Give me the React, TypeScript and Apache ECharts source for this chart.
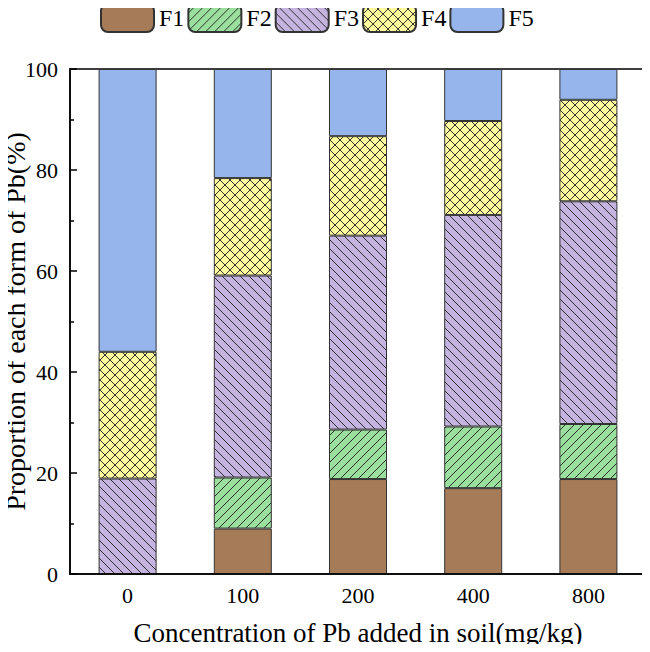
import React, { useEffect, useRef } from "react";
import * as echarts from "echarts";

const categories = ["0", "100", "200", "400", "800"];
const seriesNames = ["F1", "F2", "F3", "F4", "F5"];
const f1 = [0, 9.0, 18.8, 17.0, 18.8];
const f2 = [0, 10.1, 9.8, 12.2, 10.9];
const f3 = [18.9, 40.0, 38.4, 41.9, 44.1];
const f4 = [25.1, 19.3, 19.7, 18.6, 20.1];
const f5 = [56.0, 21.6, 13.3, 10.3, 6.1];
const seriesValues = [f1, f2, f3, f4, f5];

const FONT = "'Liberation Serif', 'Times New Roman', serif";

function makePattern(bg: string, kind: string, size: number) {
  if (kind === "none") return bg;
  const c = document.createElement("canvas");
  c.width = size;
  c.height = size;
  const ctx = c.getContext("2d")!;
  ctx.fillStyle = bg;
  ctx.fillRect(0, 0, size, size);
  ctx.strokeStyle = "rgba(30,30,30,0.9)";
  ctx.lineWidth = 1;
  const drawSlash = () => {
    for (const o of [-size, 0, size]) {
      ctx.beginPath();
      ctx.moveTo(o - 1, size + 1);
      ctx.lineTo(o + size + 1, -1);
      ctx.stroke();
    }
  };
  const drawBack = () => {
    for (const o of [-size, 0, size]) {
      ctx.beginPath();
      ctx.moveTo(o - 1, -1);
      ctx.lineTo(o + size + 1, size + 1);
      ctx.stroke();
    }
  };
  if (kind === "slash") drawSlash();
  if (kind === "back") drawBack();
  if (kind === "cross") {
    drawSlash();
    drawBack();
  }
  return {
    image: c,
    repeat: "repeat",
    imageWidth: size,
    imageHeight: size,
  } as any;
}

export default function App() {
  const ref = useRef<HTMLDivElement>(null);
  useEffect(() => {
    if (!ref.current) return;
    const chart = echarts.init(ref.current, null, { renderer: "svg" });
    const fills = [
      makePattern("#a57b58", "none", 9),
      makePattern("#9bdf9f", "slash", 9),
      makePattern("#c4b4df", "back", 9),
      makePattern("#fdfb9e", "cross", 10),
      makePattern("#95b5ec", "none", 9),
    ];
    chart.setOption({
      animation: false,
      backgroundColor: "#fff",
      textStyle: { fontFamily: FONT, color: "#000" },
      legend: {
        top: 3,
        left: 100,
        padding: 0,
        itemWidth: 53,
        itemHeight: 28,
        itemGap: 3,
        data: seriesNames,
        textStyle: { fontFamily: FONT, fontSize: 24, color: "#000" },
      },
      grid: {
        left: 70,
        right: 4,
        top: 69,
        bottom: 78,
        outerBoundsMode: "none",
        containLabel: false,
        show: true,
        borderColor: "#000",
        borderWidth: 1.5,
        backgroundColor: "transparent",
      },
      xAxis: [
        {
          type: "category",
          data: categories,
          z: 5,
          name: "Concentration of Pb added in soil(mg/kg)",
          nameLocation: "middle",
          nameGap: 45,
          nameMoveOverlap: false,
          nameTextStyle: { fontFamily: FONT, fontSize: 27, color: "#000" },
          axisLine: { lineStyle: { color: "#000", width: 1.5 } },
          axisTick: { inside: true, alignWithLabel: true, length: 9, lineStyle: { color: "#000", width: 1.5 } },
          axisLabel: { fontFamily: FONT, fontSize: 22, color: "#000", margin: 10 },
        },
        {
          type: "category",
          data: categories,
          position: "bottom",
          z: 5,
          axisLine: { show: false },
          axisTick: { inside: true, alignWithLabel: false, length: 4, lineStyle: { color: "#000", width: 1.5 } },
          axisLabel: { show: false },
        },
      ],
      yAxis: {
        type: "value",
        min: 0,
        max: 100,
        interval: 20,
        z: 5,
        name: "Proportion of each form of Pb(%)",
        nameLocation: "middle",
        nameGap: 41,
        nameMoveOverlap: false,
        nameTextStyle: { fontFamily: FONT, fontSize: 28, color: "#000" },
        axisLine: { show: true, lineStyle: { color: "#000", width: 1.5 } },
        axisTick: { show: true, inside: true, length: 7, lineStyle: { color: "#000", width: 1.5 } },
        minorTick: { show: true, splitNumber: 2, length: 4, lineStyle: { color: "#000", width: 1.5 } },
        splitLine: { show: false },
        axisLabel: { fontFamily: FONT, fontSize: 22, color: "#000", margin: 12 },
      },
      series: seriesNames.map((name, i) => ({
        name,
        type: "bar",
        stack: "total",
        barWidth: 58,
        data: seriesValues[i],
        itemStyle: { color: fills[i], borderColor: "#333", borderWidth: 1 },
      })),
    });
    return () => chart.dispose();
  }, []);
  return <div ref={ref} style={{ width: 650, height: 652, margin: -8 }} />;
}
